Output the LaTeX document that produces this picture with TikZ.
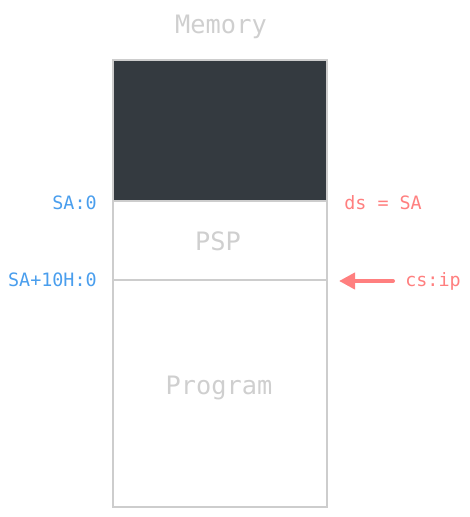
\documentclass[tikz,border=0pt]{standalone}
\usepackage{fontspec}
\setmonofont{DejaVu Sans Mono}
\usetikzlibrary{arrows.meta}
\definecolor{lgray}{HTML}{CDCDCD}
\definecolor{tgray}{HTML}{CFCFCF}
\definecolor{dfill}{HTML}{343A40}
\definecolor{bluel}{HTML}{4A9EED}
\definecolor{redl}{HTML}{FF7F7F}
\tikzset{
  big/.style={font=\ttfamily\fontsize{19pt}{22pt}\selectfont, text=tgray, inner sep=0pt},
  small/.style={font=\ttfamily\fontsize{13.8pt}{16pt}\selectfont, inner sep=0pt},
  addr/.style={small, text=bluel, anchor=east},
  reg/.style={small, text=redl, anchor=west},
  frame/.style={draw=lgray, line width=1.4pt},
}
\begin{document}
\begin{tikzpicture}[x=0.75pt,y=-0.75pt]
\useasboundingbox (0,0) rectangle (470,517);
\fill[dfill] (113,61) rectangle (327,200);
\draw[frame] (113,60) rectangle (327,507);
\draw[frame] (113,201) -- (327,201);
\draw[frame] (113,280) -- (327,280);
\node[big] (mem) at (221,27) {Memory};
\node[big] (psp) at (218,241) {PSP};
\node[big] (prog) at (219,388) {Program};
\node[addr] (sa) at (97,203) {SA:0};
\node[addr] (sa10) at (97,280) {SA+10H:0};
\node[reg] (ds) at (344,203) {ds = SA};
\node[reg] (csip) at (405,281) {cs:ip};
\coordinate (tip) at (339,281);
\draw[redl, line width=3pt, line cap=round, -{Triangle[length=12pt,width=12pt]}] (csip.west) ++(-12,0) -- (tip);
\end{tikzpicture}
\end{document}
